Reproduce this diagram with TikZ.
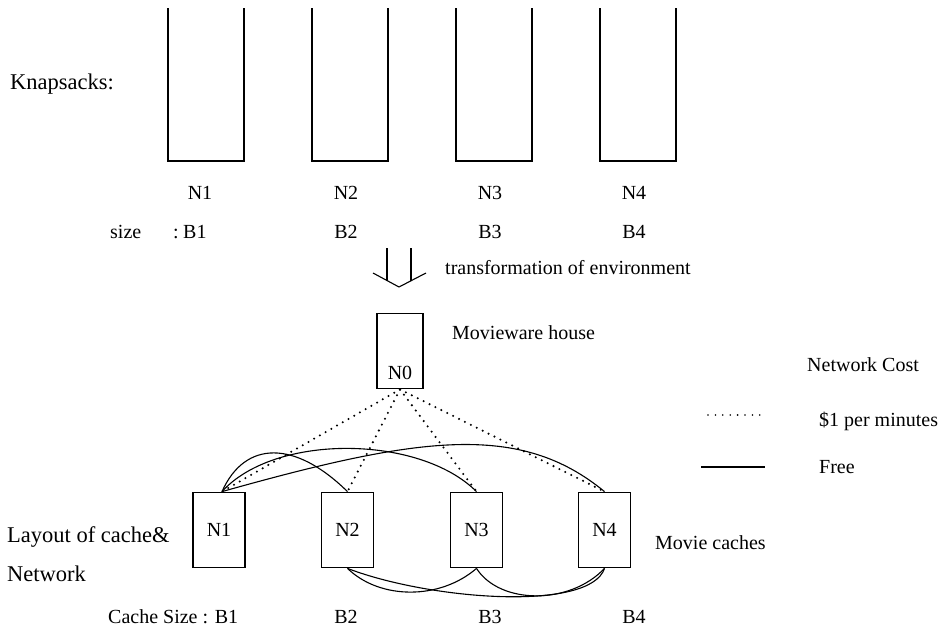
\documentclass[tikz,border=0pt]{standalone}
\usepackage{fontspec}
\setmainfont{Liberation Serif}
\begin{document}
\begin{tikzpicture}[x=1pt,y=-1pt,
  every node/.style={font=\fontsize{20}{24}\selectfont, inner sep=0pt},
  big/.style={font=\fontsize{22.5}{27}\selectfont},
  lbl/.style={anchor=base west},
  clbl/.style={anchor=base},
  sack/.style={line width=2.6pt, line join=miter},
  cache/.style={draw, line width=1.8pt, minimum width=52pt, minimum height=75pt},
  house/.style={draw, line width=1.8pt, minimum width=46pt, minimum height=75pt},
  paid/.style={line width=2.3pt, dash pattern=on 0pt off 6.6pt, line cap=round},
  free/.style={line width=1.1pt},
  pointer/.style={line width=1.1pt}]
\useasboundingbox (0,0) rectangle (951,632);

% knapsacks
\foreach \x in {168,312,456,600}
  \draw[sack] (\x,8) -- (\x,161) -- (\x+76,161) -- (\x+76,8);
\node[lbl,big] (ks) at (10,89) {Knapsacks:};
\node[clbl] (k1) at (200,199) {N1};
\node[clbl] (k2) at (346,199) {N2};
\node[clbl] (k3) at (490,199) {N3};
\node[clbl] (k4) at (634,199) {N4};
\node[lbl] (sz) at (110,238) {size};
\node[lbl] (szc) at (173,238) {:};
\node[lbl] (b1) at (183,238) {B1};
\node[clbl] (b2) at (346,238) {B2};
\node[clbl] (b3) at (490,238) {B3};
\node[clbl] (b4) at (634,238) {B4};

% transformation arrow
\draw[pointer] (387,248) -- (387,281);
\draw[pointer] (411,248) -- (411,281);
\draw[pointer] (373,273) -- (399,287) -- (426,273);
\node[lbl] (tr) at (445,274) {transformation of environment};

% warehouse
\node[house] (n0) at (400,351) {};
\node[clbl] (n0t) at (400,379) {N0};
\node[lbl] (mw) at (452,339) {Movieware house};

% caches
\node[cache] (n1) at (219,530) {N1};
\node[cache] (n2) at (347.5,530) {N2};
\node[cache] (n3) at (476.5,530) {N3};
\node[cache] (n4) at (604.5,530) {N4};

% paid links
\draw[paid] (n0.south) -- ([xshift=3pt]n1.north);
\draw[paid] (n0.south) -- (n2.north);
\draw[paid] (n0.south) -- (n3.north);
\draw[paid] (n0.south) -- (n4.north);

% free links, upper side
\draw[free] ([xshift=3pt]n1.north) .. controls (245,440) and (295,440) .. (n2.north);
\draw[free] ([xshift=3pt]n1.north) .. controls (275,433) and (420,435) .. (n3.north);
\draw[free] ([xshift=3pt]n1.north) .. controls (420,436) and (520,422) .. (n4.north);

% free links, lower side
\draw[free] (n2.south) .. controls (380,600) and (440,600) .. (n3.south);
\draw[free] (n2.south) .. controls (430,600) and (590,612) .. (n4.south);
\draw[free] (n3.south) .. controls (500,605) and (570,605) .. (n4.south);

% legend
\node[lbl] (nc) at (807,371) {Network Cost};
\coordinate (la) at (708,415);
\coordinate (lb) at (762,415);
\draw[line width=1.8pt, dash pattern=on 0pt off 7.4pt, line cap=round] (la) -- (lb);
\node[lbl] (pm) at (819,426) {\$1 per minutes};
\coordinate (lc) at (701,467);
\coordinate (ld) at (765,467);
\draw[free] (lc) -- (ld);
\node[lbl] (fr) at (819,473) {Free};

% side labels
\node[lbl,big] (lay) at (7,542) {Layout of cache\&};
\node[lbl,big] (net) at (7,581) {Network};
\node[lbl] (mc) at (655,549) {Movie caches};
\node[lbl] (cs) at (108,623) {Cache Size : B1};
\node[clbl] (c2) at (346,623) {B2};
\node[clbl] (c3) at (490,623) {B3};
\node[clbl] (c4) at (634,623) {B4};
\end{tikzpicture}
\end{document}
